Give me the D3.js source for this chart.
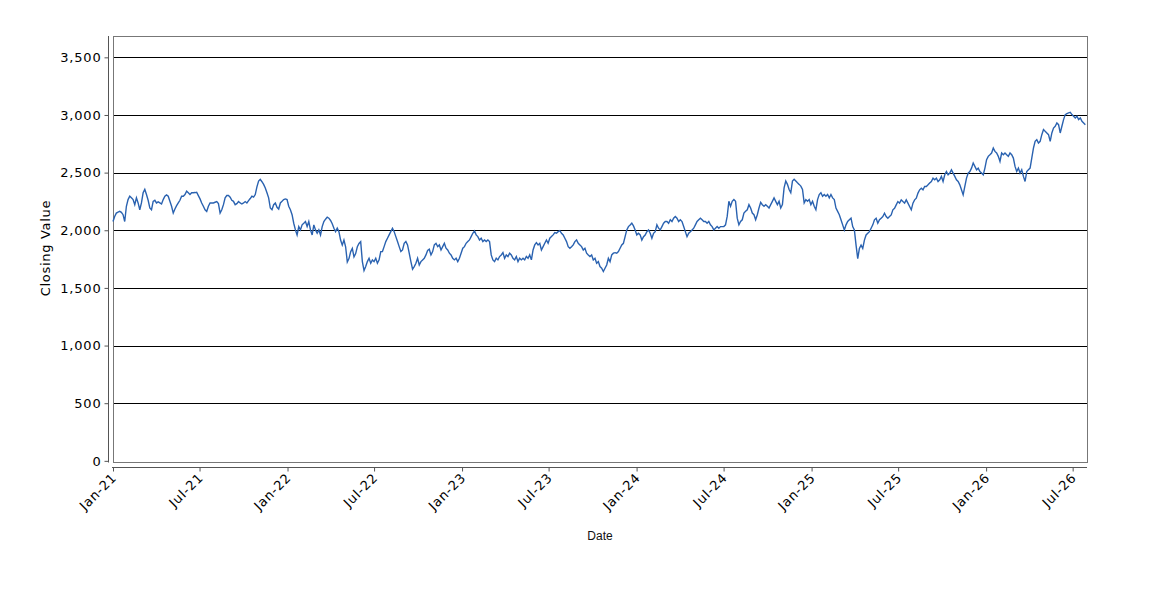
<!DOCTYPE html>
<html>
<head>
<meta charset="utf-8">
<script src="https://cdn.jsdelivr.net/npm/d3@7"></script>
<style>
body{margin:0;background:#fff}
text{font-family:"DejaVu Sans",sans-serif}
</style>
</head>
<body>
<script>
const startDate = new Date(2021,0,1)
const stepHours = 84
const closesA = [2076,2120,2149,2158,2164,2155,2135,2076,2208,2266,
  2295,2281,2266,2222,2281,2237,2178,2237,2325,2354,
  2310,2260,2193,2178,2251,2260,2237,2246,2237,2228,
  2266,2295,2307,2295,2251,2208,2149,2184,2213,2237,
  2260,2295,2295,2310,2339,2325,2310,2325,2325,2327,
  2330,2301,2272,2237,2208,2178,2164,2208,2237,2237,
  2237,2243,2249,2231,2149,2178,2222,2281,2301,2301,
  2287,2260,2251,2222,2231,2249,2237,2228,2237,2249,
  2237,2257,2275,2295,2287,2310,2377,2427,2442,2421,
  2398,2366,2325,2281,2193,2178,2222,2237,2199,2184,
  2237,2251,2266,2272,2266,2208,2178,2135,2061,2003,
  1959,2032,2003,2047,2061,2076,2032,2076,2003,1959,
  2047,2003,1974,2003,1959,2032,2076,2096,2114,2105,
  2085,2056,2018,1988,2018,1988,1915,1871,1915,1857,
  1725,1754,1813,1842,1769,1798,1857,1886,1901]
const closesB = [1728,1650,1685,1728,1757,1714,1743,1728,1757,1714,
  1743,1815,1815,1858,1902,1931,1960,1988,2017,1988,
  1945,1902,1858,1815,1829,1887,1902,1873,1801,1728,
  1662,1685,1714,1757,1699,1728,1743,1757,1786,1824,
  1835,1786,1815,1873,1887,1858,1873,1829,1858,1887,
  1844,1829,1801,1786,1757,1743,1757,1728,1757,1801,
  1844,1858,1887,1902,1916,1945,1974,1994,1960,1945,
  1916,1931,1902,1916,1902,1916,1902,1786,1743,1728,
  1757,1743,1772,1786,1806,1757,1786,1772,1801,1786,
  1757,1743,1772,1728,1757,1743,1757,1743,1772,1757,
  1786,1743,1829,1873,1893,1873,1887,1829,1858,1887,
  1916,1887,1931,1945,1960,1980,1974,1988,1997,1974,
  1960,1931,1902,1858,1844,1858,1873,1902,1916,1887,
  1873,1858,1829,1844,1801,1786,1772,1786,1743,1757,
  1714,1728,1685,1671,1642,1671,1699,1757,1728,1786,
  1801,1806,1801,1815,1844,1873,1887,1945,2003,2032,
  2046,2061,2038,2003,1960,1974,1960]
const closesC = [1915,1944,1959,1988,2003,1974,1930,1974,1988,2047,
  2018,2003,2032,2061,2076,2076,2061,2091,2076,2105,
  2120,2105,2076,2091,2076,2032,1988,1944,1974,1988,
  2003,2018,2047,2076,2091,2105,2091,2076,2076,2061,
  2076,2047,2032,2003,2018,2032,2018,2032,2032,2032,
  2047,2120,2251,2208,2251,2266,2251,2105,2047,2076,
  2091,2149,2164,2178,2222,2193,2149,2135,2091,2135,
  2193,2243,2222,2208,2222,2208,2193,2222,2251,2281,
  2251,2222,2251,2193,2222,2368,2427,2398,2354,2325,
  2427,2442,2427,2412,2398,2383,2354,2237,2266,2251,
  2266,2222,2251,2208,2178,2266,2310,2325,2295,2310,
  2295,2310,2281,2310,2281,2266,2193,2164,2135,2091,
  2047,2003,2047,2076,2091,2105,2032,2003,1871,1754,
  1842,1871,1842,1915,1959,1974,1988,2018,2047,2091,
  2105,2061,2091,2105]
const closesD = [2119,2148,2119,2104,2119,2133,2177,2191,2220,2249,
  2235,2264,2249,2235,2264,2235,2206,2177,2235,2264,
  2278,2322,2351,2365,2351,2380,2380,2394,2409,2423,
  2452,2438,2452,2423,2438,2467,2423,2481,2510,2481,
  2496,2525,2496,2467,2438,2423,2394,2351,2307,2380,
  2452,2496,2510,2539,2583,2554,2525,2539,2510,2496,
  2481,2539,2612,2641,2655,2670,2713,2684,2670,2641,
  2597,2670,2655,2670,2655,2641,2670,2655,2626,2554,
  2510,2539,2496,2525,2467,2423,2510,2525,2539,2626,
  2713,2771,2786,2757,2771,2829,2873,2858,2844,2829,
  2771,2844,2887,2902,2931,2916,2844,2902,2960,3003,
  3012,3018,3023,3003,2989,2974,2989,2960,2974,2945,
  2931,2916]

const yTicks = [0,500,1000,1500,2000,2500,3000,3500]
const xTicks = ['2021-01-01','2021-07-01','2022-01-01','2022-07-01','2023-01-01','2023-07-01',
  '2024-01-01','2024-07-01','2025-01-01','2025-07-01','2026-01-01','2026-07-01']

const closes = closesA.concat(closesB,closesC,closesD)
const series = closes.map((v,i) => ({date: d3.timeHour.offset(startDate, stepHours*i), value: v}))
const parse = d3.timeParse('%Y-%m-%d')

const W = 1150, H = 600
const pLeft = 113, pRight = 1087, pTop = 36, pBottom = 462

const svg = d3.select('body').append('svg').attr('width',W).attr('height',H)

const x = d3.scaleTime().domain([startDate, new Date(2026,6,31)]).range([pLeft,pRight])
const y = d3.scaleLinear().domain([-10,3685]).range([pBottom,pTop])

// grid
svg.append('g').selectAll('line')
  .data(yTicks.filter(d => d > 0))
  .enter().append('line')
    .attr('x1',pLeft).attr('x2',pRight)
    .attr('y1',d => Math.round(y(d))+0.5).attr('y2',d => Math.round(y(d))+0.5)
    .attr('stroke','#000').attr('stroke-width',1)

// plot frame
svg.append('rect')
  .attr('x',pLeft+0.5).attr('y',pTop+0.5)
  .attr('width',pRight-pLeft).attr('height',pBottom-pTop)
  .attr('fill','none').attr('stroke','#777')

// the series
const line = d3.line().x(d => x(d.date)).y(d => y(d.value))
svg.append('path').datum(series)
  .attr('d',line)
  .attr('fill','none')
  .attr('stroke','#2a62b0')
  .attr('stroke-width',1.4)
  .attr('stroke-linejoin','miter')

// y axis, set off a little from the frame
const yAxis = svg.append('g')
  .attr('transform','translate(108.5,0)')
  .call(d3.axisLeft(y).tickValues(yTicks).tickFormat(d3.format(',')).tickSizeOuter(0).tickSize(4).tickPadding(3))
yAxis.select('.domain').attr('stroke','#555').attr('d',`M0,${pTop}V${pBottom+0.5}`)
yAxis.selectAll('.tick line').attr('stroke','#555')
yAxis.selectAll('.tick text')
  .attr('font-size',13).attr('fill','#000').attr('font-family','DejaVu Sans')
  .attr('letter-spacing',0.8)

// x axis
const xAxis = svg.append('g')
  .attr('transform','translate(0,467.5)')
  .call(d3.axisBottom(x).tickValues(xTicks.map(parse)).tickFormat(d3.timeFormat('%b-%y')).tickSizeOuter(0).tickSize(4))
xAxis.select('.domain').attr('stroke','#555').attr('d',`M${pLeft-1},0H${pRight}`)
xAxis.selectAll('.tick line').attr('stroke','#555')
xAxis.selectAll('.tick text')
  .attr('font-size',13).attr('fill','#000').attr('font-family','DejaVu Sans')
  .attr('letter-spacing',0.8)
  .attr('text-anchor','end')
  .attr('x',0).attr('y',0).attr('dy',0)
  .attr('transform','translate(4,11) rotate(-45)')

// axis titles
svg.append('text')
  .attr('transform','translate(50,248) rotate(-90)')
  .attr('text-anchor','middle')
  .attr('font-size',13).attr('fill','#000')
  .attr('letter-spacing',0.7)
  .text('Closing Value')
svg.append('text')
  .attr('x',600).attr('y',540)
  .attr('text-anchor','middle')
  .attr('font-size',12).attr('fill','#111')
  .style('font-family','"Liberation Sans",Arial,sans-serif')
  .text('Date')
</script>
</body>
</html>
